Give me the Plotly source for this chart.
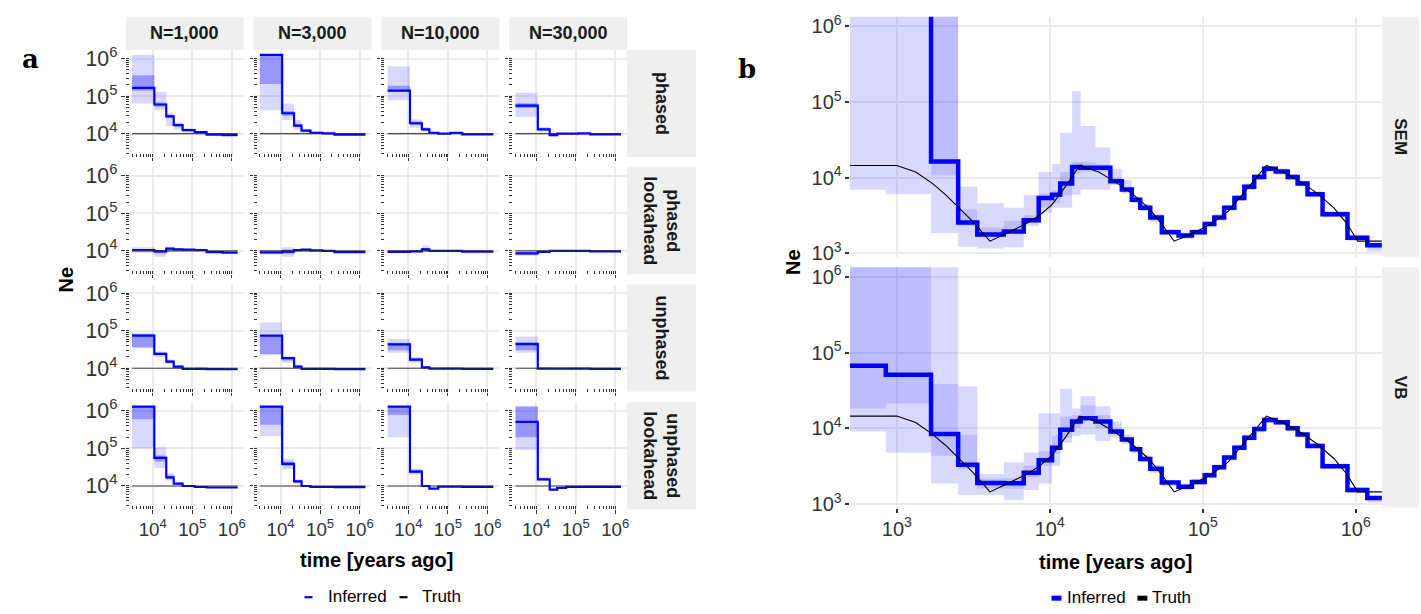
import plotly.graph_objects as go

W, H = 1421, 614

# ================= Panel a data =================
a_cols = ["N=1,000", "N=3,000", "N=10,000", "N=30,000"]
a_rows = ["phased", "phased<br>lookahead", "unphased", "unphased<br>lookahead"]
a_breaks = [3000, 11000, 22000, 34000, 57000, 115000, 230000, 590000, 1400000]
a_truth_t = [3000, 1400000]
a_truth_ne = [10000, 10000]

# row "phased": one list per column (N=1,000 ... N=30,000)
a_phased_ne = [[166000, 60000, 29000, 17000, 12500, 11000, 9500, 9200],
               [1260000, 35000, 16500, 12000, 10600, 10200, 9400, 9400],
               [140000, 19000, 13000, 10600, 10000, 10500, 9600, 9600],
               [56000, 13000, 9200, 10000, 10000, 10200, 9600, 9600]]
a_phased_lo = [[64000, 42000, 16000, 13000, 11000, 10000, 9000, 8800],
               [42000, 23000, 13000, 11000, 10000, 9600, 9000, 9000],
               [78000, 14500, 11500, 10000, 9600, 10000, 9200, 9200],
               [28000, 11500, 8400, 9600, 9600, 9800, 9200, 9200]]
a_phased_hi = [[1260000, 130000, 36000, 20000, 14000, 12000, 10000, 9600],
               [1260000, 64000, 23000, 13500, 11200, 10800, 9800, 9800],
               [630000, 24000, 15000, 11200, 10400, 11000, 10000, 10000],
               [123000, 15000, 9800, 10400, 10400, 10600, 10000, 10000]]
a_phased_dlo = [[140000, 52000, 26000, 15500, 11800, 10500, 9200, 9000],
                [210000, 30000, 15000, 11500, 10300, 9900, 9200, 9200],
                [130000, 17000, 12200, 10300, 9800, 10200, 9400, 9400],
                [48000, 12200, 8800, 9800, 9800, 10000, 9400, 9400]]
a_phased_dhi = [[360000, 68000, 32000, 18500, 13200, 11500, 9800, 9400],
                [1260000, 40000, 18000, 12500, 10900, 10500, 9600, 9600],
                [190000, 21000, 14000, 10900, 10200, 10800, 9800, 9800],
                [65000, 14000, 9500, 10200, 10200, 10400, 9800, 9800]]

# row "phased lookahead"
a_phla_ne = [[10600, 9700, 11500, 11000, 10800, 10600, 9300, 9000],
             [9100, 9600, 10500, 10800, 10400, 10000, 9300, 9300],
             [9500, 9800, 11000, 10000, 10000, 10000, 9600, 9600],
             [8600, 9500, 10000, 10000, 10000, 10000, 9800, 9800]]
a_phla_lo = [[9000, 7000, 10200, 10200, 10100, 10000, 9000, 8700],
             [8000, 7000, 9800, 10100, 10000, 9700, 9000, 9000],
             [8800, 9000, 9500, 9600, 9600, 9600, 9200, 9200],
             [7500, 9000, 9600, 9600, 9600, 9600, 9400, 9400]]
a_phla_hi = [[12500, 10500, 13000, 12000, 11500, 11100, 9700, 9300],
             [10500, 12500, 11200, 11500, 10800, 10400, 9600, 9600],
             [10300, 10600, 14000, 10500, 10400, 10400, 10000, 10000],
             [9400, 10200, 10500, 10400, 10400, 10400, 10200, 10200]]
a_phla_dlo = [[10000, 8500, 11000, 10600, 10400, 10300, 9100, 8850],
              [8600, 8400, 10100, 10400, 10200, 9850, 9150, 9150],
              [9100, 9400, 10200, 9800, 9800, 9800, 9400, 9400],
              [8000, 9200, 9800, 9800, 9800, 9800, 9600, 9600]]
a_phla_dhi = [[11200, 10100, 12200, 11500, 11200, 10900, 9500, 9150],
              [9800, 11000, 10900, 11200, 10600, 10200, 9450, 9450],
              [9900, 10200, 12000, 10250, 10200, 10200, 9800, 9800],
              [9000, 9850, 10250, 10200, 10200, 10200, 10000, 10000]]

# row "unphased"
a_unph_ne = [[74000, 24000, 15000, 11000, 9600, 9600, 9500, 9400],
             [74000, 18500, 11000, 9600, 9600, 9600, 9500, 9500],
             [43000, 17000, 10500, 9700, 9700, 9700, 9600, 9600],
             [44000, 9800, 9700, 9700, 9700, 9700, 9600, 9600]]
a_unph_lo = [[34000, 20000, 13000, 10000, 9200, 9200, 9100, 9000],
             [22000, 14000, 10000, 9200, 9200, 9200, 9100, 9100],
             [26000, 14000, 9800, 9300, 9300, 9300, 9200, 9200],
             [26000, 9200, 9300, 9300, 9300, 9300, 9200, 9200]]
a_unph_hi = [[85000, 28000, 17000, 12000, 10000, 10500, 9900, 9800],
             [166000, 21000, 12500, 10000, 10000, 10000, 9900, 9900],
             [60000, 20000, 11200, 10100, 10100, 10100, 10000, 10000],
             [70000, 10500, 10100, 10100, 10100, 10100, 10000, 10000]]
a_unph_dlo = [[36000, 22000, 14000, 10500, 9400, 9400, 9300, 9200],
              [24000, 16000, 10500, 9400, 9400, 9400, 9300, 9300],
              [30000, 15500, 10100, 9500, 9500, 9500, 9400, 9400],
              [30000, 9500, 9500, 9500, 9500, 9500, 9400, 9400]]
a_unph_dhi = [[82000, 26000, 16000, 11500, 9800, 9800, 9700, 9600],
              [76000, 20000, 11500, 9800, 9800, 9800, 9700, 9700],
              [48000, 18500, 10900, 9900, 9900, 9900, 9800, 9800],
              [50000, 10100, 9900, 9900, 9900, 9900, 9800, 9800]]

# row "unphased lookahead"
a_unla_ne = [[1300000, 56000, 17000, 11500, 10000, 9400, 9100, 9100],
             [1300000, 39000, 13300, 10000, 9400, 9400, 9300, 9300],
             [1300000, 24000, 10000, 8500, 9600, 9600, 9500, 9500],
             [510000, 15000, 8000, 8900, 9500, 9500, 9500, 9500]]
a_unla_lo = [[100000, 30000, 14000, 10500, 9600, 9000, 8800, 8800],
             [210000, 28000, 11500, 9600, 9000, 9000, 8900, 8900],
             [200000, 20000, 9400, 8000, 9200, 9200, 9100, 9100],
             [91000, 13500, 7500, 8500, 9100, 9100, 9100, 9100]]
a_unla_hi = [[1300000, 107000, 22000, 12500, 10500, 9800, 9400, 9400],
             [1300000, 53000, 15000, 10500, 9800, 9800, 9700, 9700],
             [1300000, 29000, 10600, 9000, 10000, 10000, 9900, 9900],
             [1300000, 17000, 8500, 9300, 9900, 9900, 9900, 9900]]
a_unla_dlo = [[600000, 45000, 15500, 11000, 9800, 9200, 8950, 8950],
              [430000, 34000, 12500, 9800, 9200, 9200, 9100, 9100],
              [780000, 22000, 9700, 8250, 9400, 9400, 9300, 9300],
              [200000, 14200, 7800, 8700, 9300, 9300, 9300, 9300]]
a_unla_dhi = [[1300000, 65000, 19000, 12000, 10200, 9600, 9250, 9250],
              [1300000, 45000, 14200, 10250, 9600, 9600, 9500, 9500],
              [1300000, 27000, 10300, 8800, 9800, 9800, 9700, 9700],
              [1300000, 16000, 8300, 9100, 9700, 9700, 9700, 9700]]

# ================= Panel b data =================
b_rows = ["SEM", "VB"]
b_breaks = [493, 848, 1675, 2520, 3360, 5010, 6760, 8470, 10350, 11700, 14000, 15900,
            19900, 24900, 29600, 34400, 39000, 45400, 54000, 69500, 85000, 103000,
            119000, 138000, 161000, 187000, 217000, 252000, 300000, 359000, 417000,
            484000, 607000, 883000, 1190000, 1480000]
b_truth_t = [493, 1000, 1330, 1708, 2090, 2550, 3110, 3620, 4060, 5400, 6940, 8470,
             10350, 12650, 15000, 15700, 20900, 26800, 34400, 44300, 54000, 65000,
             85000, 113000, 147000, 189000, 230000, 261000, 341000, 438000, 560000,
             720000, 880000, 1030000, 1480000]
b_truth_ne = [14500, 14500, 11900, 8400, 5940, 4000, 2690, 1900, 1450, 1900, 2440, 3120,
              4400, 7600, 12500, 14500, 11900, 8800, 6200, 4000, 2440, 1450,
              1810, 2440, 3600, 6600, 10800, 14500, 11600, 8800, 6200,
              4000, 2440, 1450, 1450]

b_sem_ne = [3000000, 3000000, 16300, 2550, 1770, 1940, 2740, 5400, 5940, 8400, 13800, 13500,
            13500, 9000, 7000, 5100, 4000, 2970, 1900, 1720, 1900, 2440, 2970, 4000,
            5400, 7600, 10200, 13100, 12100, 10200, 8400, 6050, 3280, 1610, 1280]
b_sem_lo = [6900, 6050, 1860, 1220, 1160, 1200, 2300, 3450, 4000, 4000, 5940, 6900,
            6900, 8000, 6200, 4600, 3600, 2600, 1750, 1550, 1750, 2200, 2700, 3650,
            4900, 6900, 9300, 12000, 11000, 9300, 7600, 5500, 3000, 1470, 1050]
b_sem_hi = [3000000, 3000000, 3000000, 7600, 4600, 4000, 5900, 11900, 15200, 39000, 140000, 48000,
            25000, 13100, 9300, 5700, 4500, 3300, 2100, 1900, 2100, 2700, 3300, 4400,
            5900, 8400, 11200, 14300, 13300, 11200, 9200, 6600, 3600, 1760, 1400]
b_sem_dlo = [2500000, 2500000, 10700, 2300, 1640, 1810, 2500, 4000, 4600, 5900, 11300, 12000,
             12000, 8500, 6600, 4900, 3800, 2800, 1830, 1650, 1830, 2330, 2850, 3850,
             5200, 7300, 9800, 12600, 11600, 9800, 8000, 5800, 3150, 1550, 1200]
b_sem_dhi = [3000000, 3000000, 3000000, 3800, 2200, 2690, 3200, 6200, 6800, 11900, 16000, 16000,
             15000, 10000, 7500, 5400, 4200, 3100, 2000, 1800, 2000, 2550, 3100, 4200,
             5600, 7900, 10600, 13600, 12600, 10600, 8800, 6300, 3420, 1680, 1340]

b_vb_ne = [67000, 51000, 8400, 3300, 1900, 1880, 2600, 3800, 5560, 9600, 12300, 13600,
           12300, 9100, 7100, 5300, 3950, 2930, 1930, 1690, 1960, 2400, 3060, 4130,
           5560, 7500, 9800, 12900, 12000, 10000, 8300, 5850, 3160, 1530, 1200]
b_vb_lo = [9100, 4800, 1870, 1320, 1320, 1140, 1530, 1870, 3200, 6450, 7900, 8300,
           6800, 7500, 6200, 4700, 3600, 2600, 1750, 1550, 1800, 2200, 2800, 3800,
           5100, 6900, 8900, 11800, 11000, 9200, 7600, 5400, 2900, 1400, 1050]
b_vb_hi = [3000000, 3000000, 3000000, 35600, 2500, 3560, 4800, 15800, 15800, 33000, 18300, 26500,
           19600, 12300, 8300, 6000, 4400, 3300, 2100, 1850, 2150, 2650, 3350, 4500,
           6100, 8200, 10800, 14000, 13000, 10900, 9000, 6400, 3450, 1670, 1300]
b_vb_dlo = [18300, 21200, 4350, 2920, 1610, 1600, 2280, 3200, 4600, 7500, 10000, 13600,
            10000, 8300, 6700, 5000, 3800, 2800, 1850, 1620, 1880, 2300, 2950, 3950,
            5350, 7200, 9300, 12300, 11500, 9600, 7900, 5600, 3000, 1460, 1130]
b_vb_dhi = [3000000, 3000000, 38500, 8300, 2170, 2200, 3200, 5000, 8000, 14300, 15000, 20000,
            15000, 10000, 7600, 5600, 4150, 3100, 2020, 1760, 2050, 2500, 3200, 4300,
            5800, 7800, 10200, 13500, 12500, 10400, 8700, 6100, 3300, 1600, 1250]

# ================= helpers =================
BLUE = "#0000FF"
FONT = "Liberation Sans, Arial, Helvetica, sans-serif"
SERIF = "DejaVu Serif, Liberation Serif, serif"
GRID = "#EBEBEB"
TICKC = "#333333"
STRIP = "#EFEFEF"


def fx(p):
    return p / W


def fy(p):
    return 1 - p / H


fig = go.Figure()


def ax_ref(k):
    return ("x" if k == 1 else f"x{k}"), ("y" if k == 1 else f"y{k}")


def add_band(k, breaks, lo, hi, color):
    xr, yr = ax_ref(k)
    fig.add_trace(go.Scatter(x=breaks, y=list(lo) + [lo[-1]], mode="lines",
                             line=dict(width=0, shape="hv"), xaxis=xr, yaxis=yr,
                             showlegend=False, hoverinfo="skip"))
    fig.add_trace(go.Scatter(x=breaks, y=list(hi) + [hi[-1]], mode="lines",
                             line=dict(width=0, shape="hv"), fill="tonexty",
                             fillcolor=color, xaxis=xr, yaxis=yr,
                             showlegend=False, hoverinfo="skip"))


def add_steps(k, breaks, vals, width):
    xr, yr = ax_ref(k)
    fig.add_trace(go.Scatter(x=breaks, y=list(vals) + [vals[-1]], mode="lines",
                             line=dict(width=width, color=BLUE, shape="hv"),
                             xaxis=xr, yaxis=yr, showlegend=False))


def add_truth(k, t, ne, width, color):
    xr, yr = ax_ref(k)
    fig.add_trace(go.Scatter(x=t, y=ne, mode="lines",
                             line=dict(width=width, color=color),
                             xaxis=xr, yaxis=yr, showlegend=False))


layout = dict(width=W, height=H, autosize=False, margin=dict(l=0, r=0, t=0, b=0),
              paper_bgcolor="white", plot_bgcolor="white",
              font=dict(family=FONT, color="black"), showlegend=False)
shapes, annots = [], []


def txt(text, x, y, size, bold=False, angle=0, family=FONT, xanchor="center",
        color="black"):
    annots.append(dict(text=text, x=fx(x), y=fy(y), xref="paper", yref="paper",
                       showarrow=False, textangle=angle, xanchor=xanchor, yanchor="middle",
                       font=dict(size=size, family=family, color=color,
                                 weight="bold" if bold else "normal")))


def strip(x0, x1, y0, y1):
    shapes.append(dict(type="rect", xref="paper", yref="paper", x0=fx(x0), x1=fx(x1),
                       y0=fy(y1), y1=fy(y0), fillcolor=STRIP, line=dict(width=0),
                       layer="below"))


# ================= Panel a =================
a_x_dom = [(126, 244), (254, 372), (382, 500), (510, 628)]
a_y_dom = [(45, 154.5), (165, 274.5), (285, 394.5), (405.5, 515)]
a_data = [
    (a_phased_ne, a_phased_lo, a_phased_hi, a_phased_dlo, a_phased_dhi),
    (a_phla_ne, a_phla_lo, a_phla_hi, a_phla_dlo, a_phla_dhi),
    (a_unph_ne, a_unph_lo, a_unph_hi, a_unph_dlo, a_unph_dhi),
    (a_unla_ne, a_unla_lo, a_unla_hi, a_unla_dlo, a_unla_dhi),
]

for r in range(4):
    ne, lo, hi, dlo, dhi = a_data[r]
    for c in range(4):
        k = r * 4 + c + 1
        add_band(k, a_breaks, lo[c], hi[c], "rgba(0,0,255,0.15)")
        add_band(k, a_breaks, dlo[c], dhi[c], "rgba(0,0,255,0.30)")
        add_steps(k, a_breaks, ne[c], 2.2)
        add_truth(k, a_truth_t, a_truth_ne, 1.2, "rgba(40,40,40,0.85)")
        x0, x1 = a_x_dom[c]
        y0, y1 = a_y_dom[r]
        xr, yr = ax_ref(k)
        minor = dict(ticks="inside", ticklen=3, dtick="D1", tickcolor=TICKC,
                     tickwidth=1, showgrid=False)
        layout["xaxis" if k == 1 else f"xaxis{k}"] = dict(
            type="log", domain=[fx(x0), fx(x1)], range=[3.32, 6.30], anchor=yr,
            tickmode="linear", tick0=0, dtick=1, exponentformat="power",
            showexponent="all", showticklabels=(r == 3),
            ticks="outside", ticklen=4 if r == 3 else 3, tickcolor=TICKC,
            tickfont=dict(size=15, color=TICKC), minor=minor,
            showgrid=True, gridcolor=GRID, gridwidth=1.5, zeroline=False,
            showline=False)
        layout["yaxis" if k == 1 else f"yaxis{k}"] = dict(
            type="log", domain=[fy(y1), fy(y0)], range=[3.38, 6.23], anchor=xr,
            tickmode="linear", tick0=0, dtick=1, exponentformat="power",
            showexponent="all", showticklabels=(c == 0),
            ticks="outside", ticklen=4 if c == 0 else 3, tickcolor=TICKC,
            tickfont=dict(size=17, color=TICKC), minor=minor,
            showgrid=True, gridcolor=GRID, gridwidth=1.5, zeroline=False,
            showline=False)

for c, lab in enumerate(a_cols):
    x0, x1 = a_x_dom[c]
    strip(x0, x1, 11, 45)
    txt(lab, (x0 + x1) / 2, 28, 18, bold=True, color="#1A1A1A")
for r, lab in enumerate(a_rows):
    y0, y1 = a_y_dom[r]
    strip(628, 697, y0, y1)
    txt(lab, 662.5, (y0 + y1) / 2, 18, bold=True, angle=90, color="#1A1A1A")

# ================= Panel b =================
b_x_dom = (851, 1384)
b_y_dom = [(11, 256.7), (267.3, 513.3)]
b_data = [(b_sem_ne, b_sem_lo, b_sem_hi, b_sem_dlo, b_sem_dhi),
          (b_vb_ne, b_vb_lo, b_vb_hi, b_vb_dlo, b_vb_dhi)]
for i in range(2):
    k = 17 + i
    ne, lo, hi, dlo, dhi = b_data[i]
    add_band(k, b_breaks, lo, hi, "rgba(0,0,255,0.15)")
    add_band(k, b_breaks, dlo, dhi, "rgba(0,0,255,0.13)")
    add_steps(k, b_breaks, ne, 4.5)
    add_truth(k, b_truth_t, b_truth_ne, 1.1, "black")
    xr, yr = ax_ref(k)
    y0, y1 = b_y_dom[i]
    layout[f"xaxis{k}"] = dict(
        type="log", domain=[fx(b_x_dom[0]), fx(b_x_dom[1])], range=[2.693, 6.172],
        anchor=yr, tickmode="linear", tick0=0, dtick=1, exponentformat="power",
        showexponent="all", showticklabels=(i == 1), ticks="outside" if i == 1 else "",
        ticklen=4, tickwidth=1.5, tickcolor=TICKC, tickfont=dict(size=16, color=TICKC),
        showgrid=True, gridcolor=GRID, gridwidth=1.5, zeroline=False, showline=False)
    layout[f"yaxis{k}"] = dict(
        type="log", domain=[fy(y1), fy(y0)], range=[2.954, 6.126], anchor=xr,
        tickmode="linear", tick0=0, dtick=1, exponentformat="power", showexponent="all",
        ticks="outside", ticklen=4, tickwidth=1.5, tickcolor=TICKC,
        tickfont=dict(size=16, color=TICKC),
        showgrid=True, gridcolor=GRID, gridwidth=1.5, zeroline=False, showline=False)
    strip(1384, 1421, y0, y1)
    txt(b_rows[i], 1402.5, (y0 + y1) / 2, 17, bold=True, angle=90, color="#1A1A1A")

# ================= titles, labels, legends =================
txt("a", 31, 54, 26, bold=True, family=SERIF)
txt("b", 748, 64, 26, bold=True, family=SERIF)
txt("Ne", 66, 280, 20, bold=True, angle=-90)
txt("Ne", 794, 262, 20, bold=True, angle=-90)
txt("time [years ago]", 377, 567, 20, bold=True)
txt("time [years ago]", 1117, 569, 20, bold=True)

# legend a
shapes.append(dict(type="line", xref="paper", yref="paper", x0=fx(305), x1=fx(313),
                   y0=fy(605), y1=fy(605), line=dict(color=BLUE, width=2.2)))
txt("Inferred", 326, 604, 17, xanchor="left")
shapes.append(dict(type="line", xref="paper", yref="paper", x0=fx(400), x1=fx(408),
                   y0=fy(605), y1=fy(605), line=dict(color="black", width=2.2)))
txt("Truth", 421, 604, 17, xanchor="left")
# legend b
shapes.append(dict(type="line", xref="paper", yref="paper", x0=fx(1053), x1=fx(1063),
                   y0=fy(606), y1=fy(606), line=dict(color=BLUE, width=5)))
txt("Inferred", 1067, 605, 17, xanchor="left")
shapes.append(dict(type="line", xref="paper", yref="paper", x0=fx(1139), x1=fx(1149),
                   y0=fy(606), y1=fy(606), line=dict(color="black", width=5)))
txt("Truth", 1152, 605, 17, xanchor="left")

layout["shapes"] = shapes
layout["annotations"] = annots
fig.update_layout(**layout)

post = ("document.documentElement.style.margin='0';document.body.style.margin='0';"
        "document.body.style.padding='0';document.body.style.overflow='hidden';"
        "document.documentElement.style.overflow='hidden';"
        "var gd=document.getElementById('{plot_id}');"
        "gd.style.position='fixed';gd.style.left='0px';gd.style.top='0px';"
        "Plotly.relayout(gd,{width:1421,height:614});")
fig.write_html("out.html", post_script=post,
               config={"displayModeBar": False, "responsive": False})
